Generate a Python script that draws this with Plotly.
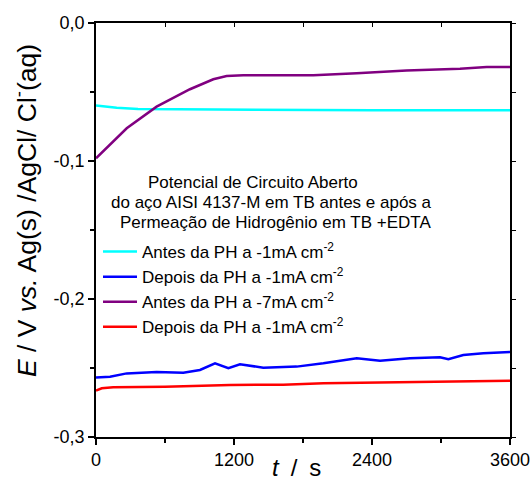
import plotly.graph_objects as go

# Data
t_cyan = [0, 180, 365, 1104, 1557, 2400, 3000, 3600]
e_cyan = [-0.0597, -0.0614, -0.0623, -0.0626, -0.0633, -0.0633, -0.0633, -0.0633]

t_blue = [0, 122, 267, 411, 527, 759, 904, 1035, 1151, 1252, 1455, 1745, 1977, 2267, 2470, 2730, 2991, 3064, 3194, 3368, 3600]
e_blue = [-0.2568, -0.2563, -0.2539, -0.2534, -0.2529, -0.2534, -0.2514, -0.2466, -0.2502, -0.2473, -0.2498,
          -0.2490, -0.2466, -0.2430, -0.2447, -0.2430, -0.2423, -0.2437, -0.2406, -0.2394, -0.2384]

t_purple = [0, 136, 267, 527, 817, 1020, 1136, 1281, 1890, 2267, 2700, 3165, 3397, 3600]
e_purple = [-0.0980, -0.0872, -0.0763, -0.0606, -0.0480, -0.0408, -0.0384, -0.0379, -0.0379, -0.0365,
            -0.0345, -0.0331, -0.0319, -0.0319]

t_red = [0, 50, 150, 600, 1165, 1628, 1977, 2527, 3165, 3600]
e_red = [-0.2664, -0.2647, -0.2640, -0.2635, -0.2623, -0.2621, -0.2611, -0.2606, -0.2597, -0.2592]

names = ["Antes da PH a -1mA cm<sup>-2</sup>", "Depois da PH a -1mA cm<sup>-2</sup>",
         "Antes da PH a -7mA cm<sup>-2</sup>", "Depois da PH a -1mA cm<sup>-2</sup>"]
colors = ["#00FFFF", "#0000FF", "#800080", "#FF0000"]

x_ticks = [0, 1200, 2400, 3600]
x_ticktext = ["0", "1200", "2400", "3600"]
y_ticks = [0.0, -0.1, -0.2, -0.3]
y_ticktext = ["0,0", "-0,1", "-0,2", "-0,3"]

title_lines = ["Potencial de Circuito Aberto",
               "do aço AISI 4137-M em TB antes e após a",
               "Permeação de Hidrogênio em TB +EDTA"]

FONT = "Liberation Sans, Arial, sans-serif"
L, R, T, B = 96, 21, 23, 48
W, H = 531, 485
PW, PH = W - L - R, H - T - B


def px_x(x):
    return (x - L) / PW


def px_y(y):
    return 1 - (y - T) / PH


fig = go.Figure()
for tx, ey, nm, c in zip([t_cyan, t_blue, t_purple, t_red], [e_cyan, e_blue, e_purple, e_red], names, colors):
    fig.add_trace(go.Scatter(x=tx, y=ey, mode="lines", name=nm, line=dict(color=c, width=2.5)))

axis_common = dict(showline=True, linecolor="black", linewidth=1.5, showgrid=False, zeroline=False,
                   ticks="outside", ticklen=6, tickwidth=1.5, tickcolor="black", automargin=False,
                   tickfont=dict(family=FONT, size=18, color="black"))

fig.update_layout(
    width=W, height=H,
    margin=dict(l=L, r=R, t=T, b=B, autoexpand=False),
    paper_bgcolor="white", plot_bgcolor="white",
    font=dict(family=FONT, color="black"),
    xaxis=dict(range=[0, 3600], tickvals=x_ticks, ticktext=x_ticktext, ticklabelstandoff=0,
               minor=dict(dtick=600, ticklen=4, tickcolor="black", ticks="outside", tick0=0),
               **axis_common),
    yaxis=dict(range=[-0.3, 0.0], tickvals=y_ticks, ticktext=y_ticktext,
               minor=dict(dtick=0.05, ticklen=4, tickcolor="black", ticks="outside", tick0=0),
               **axis_common),
    xaxis2=dict(overlaying="x", side="top", range=[0, 3600], showline=True, linecolor="black", linewidth=1.5,
                showgrid=False, zeroline=False, ticks="inside", ticklen=4, tickcolor="black", automargin=False,
                tickvals=[0, 600, 1200, 1800, 2400, 3000, 3600], showticklabels=False),
    yaxis2=dict(overlaying="y", side="right", range=[-0.3, 0.0], showline=True, linecolor="black", linewidth=1.5,
                showgrid=False, zeroline=False, ticks="outside", ticklen=4, tickcolor="black", automargin=False,
                tickvals=[0, -0.05, -0.1, -0.15, -0.2, -0.25, -0.3], showticklabels=False),
    legend=dict(x=px_x(98), y=px_y(234), xanchor="left", yanchor="top", bgcolor="rgba(0,0,0,0)",
                font=dict(family=FONT, size=17, color="black"), itemwidth=34, tracegroupgap=0),
    showlegend=True,
)
# invisible helper trace so the mirrored top/right axes are drawn
fig.add_trace(go.Scatter(x=[None], y=[None], xaxis="x2", yaxis="y2", showlegend=False, hoverinfo="skip"))

fig.add_annotation(text="<i>E</i> / V <i>vs.</i> Ag(s) /AgCl/ Cl<sup>-</sup>(aq)", textangle=-90,
                   xref="paper", yref="paper", x=px_x(25), y=px_y(211), xanchor="center", yanchor="middle",
                   showarrow=False, font=dict(family=FONT, size=26.5, color="black"))
fig.add_annotation(text="<i>t</i>\u2002/\u2002s", xref="paper", yref="paper", x=px_x(296), y=px_y(467),
                   xanchor="center", yanchor="middle",
                   showarrow=False, font=dict(family=FONT, size=24, color="black"))

title_cx = [253, 271, 275]
title_cy = [183, 203, 223]
for line, cx, cy in zip(title_lines, title_cx, title_cy):
    fig.add_annotation(text=line, xref="paper", yref="paper", x=px_x(cx), y=px_y(cy),
                       xanchor="center", yanchor="middle",
                       showarrow=False, font=dict(family=FONT, size=17, color="black"))

fig.write_html("out.html")
